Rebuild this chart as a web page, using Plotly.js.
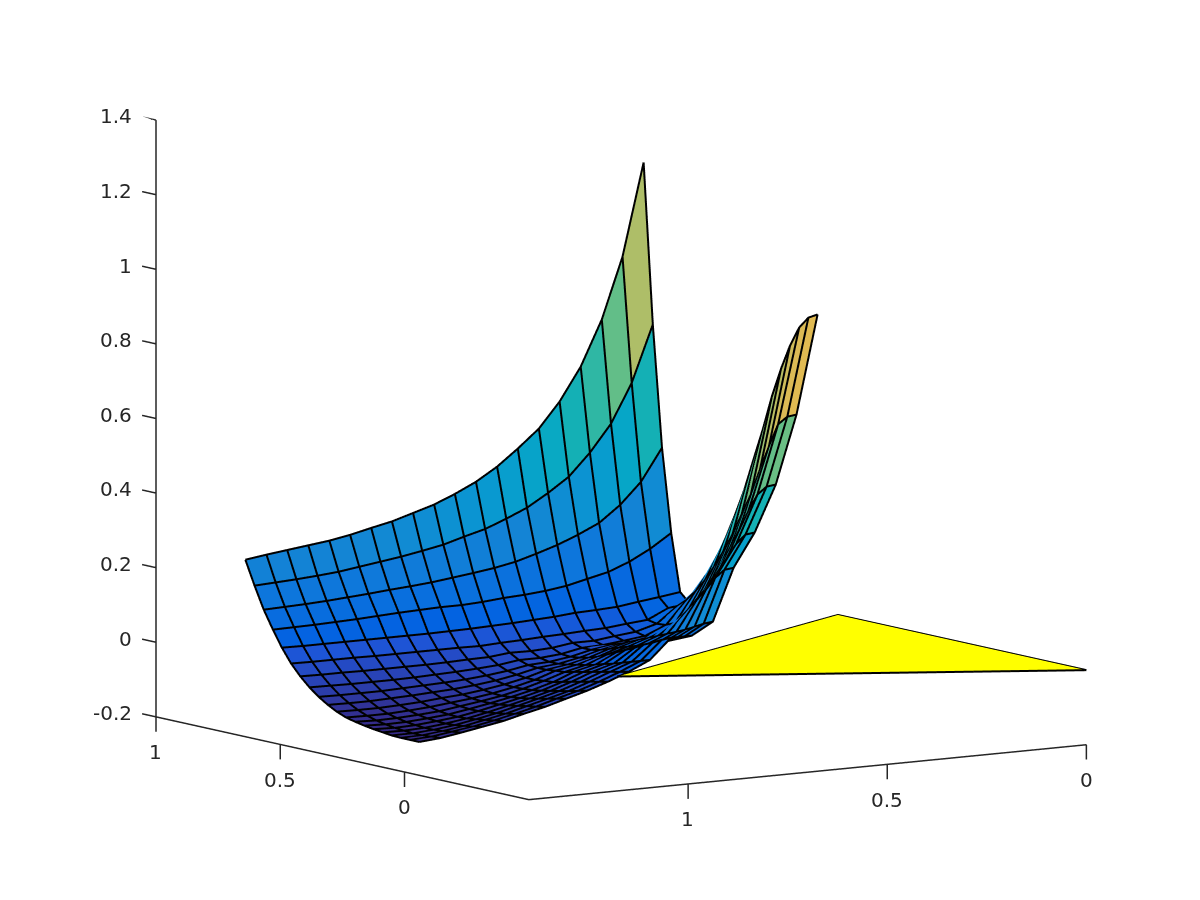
<!DOCTYPE html>
<html><head><meta charset="utf-8"><script src="https://cdn.plot.ly/plotly-3.0.1.min.js"></script>
<style>html,body{margin:0;background:#fff}#g{width:1200px;height:900px}</style></head>
<body><div id="g"></div><script>
const xVals=[1.300,1.247,1.195,1.142,1.089,1.037,.984,.932,.879,.826,.774,.721,.668,.616,.563,.511,.458,.405,.353,.300];
const yVals=[.800,.763,.726,.689,.653,.616,.579,.542,.505,.468,.432,.395,.358,.321,.284,.247,.211,.174,.137,.100];
const zRows=[
[.241,.177,.118,.070,.027,-.010,-.039,-.063,-.083,-.099,-.112,-.122,-.128,-.133,-.137,-.140,-.143,-.144,-.144,-.144],
[.249,.180,.120,.071,.026,-.011,-.040,-.064,-.084,-.100,-.113,-.123,-.130,-.135,-.139,-.141,-.143,-.143,-.141,-.139],
[.256,.183,.122,.072,.026,-.011,-.040,-.065,-.084,-.100,-.113,-.123,-.129,-.134,-.137,-.139,-.139,-.137,-.133,-.130],
[.263,.187,.125,.074,.026,-.011,-.041,-.065,-.084,-.098,-.111,-.120,-.126,-.130,-.132,-.133,-.132,-.129,-.125,-.120],
[.270,.192,.129,.076,.026,-.012,-.041,-.065,-.082,-.096,-.108,-.116,-.122,-.125,-.126,-.125,-.122,-.118,-.114,-.110],
[.280,.200,.133,.079,.026,-.012,-.041,-.064,-.080,-.093,-.103,-.110,-.114,-.116,-.116,-.114,-.111,-.107,-.102,-.096],
[.293,.208,.138,.082,.026,-.012,-.041,-.062,-.078,-.090,-.099,-.104,-.106,-.106,-.104,-.101,-.097,-.092,-.088,-.083],
[.305,.216,.142,.084,.026,-.012,-.040,-.060,-.075,-.085,-.092,-.096,-.097,-.095,-.092,-.088,-.083,-.078,-.072,-.067],
[.322,.226,.147,.086,.027,-.012,-.038,-.057,-.070,-.078,-.083,-.085,-.084,-.082,-.078,-.073,-.068,-.063,-.057,-.051],
[.339,.237,.154,.086,.028,-.013,-.037,-.053,-.063,-.068,-.071,-.071,-.068,-.066,-.060,-.054,-.049,-.043,-.038,-.032],
[.362,.253,.161,.089,.030,-.010,-.031,-.045,-.053,-.055,-.055,-.052,-.050,-.044,-.039,-.033,-.028,-.022,-.017,-.011],
[.389,.268,.169,.094,.032,-.008,-.032,-.045,-.050,-.050,-.047,-.042,-.037,-.031,-.023,-.017,-.009,-.001,.007,.015],
[.424,.290,.180,.097,.035,-.005,-.029,-.040,-.042,-.039,-.034,-.026,-.015,-.004,.009,.020,.034,.045,.058,.069],
[.467,.314,.196,.102,.038,-.003,-.021,-.029,-.029,-.024,-.016,-.007,.001,.009,.017,.025,.036,.047,.058,.069],
[.515,.348,.214,.110,.043,0,-.021,-.027,-.021,-.013,-.002,.009,.019,.030,.041,.052,.063,.076,.090,.101],
[.582,.386,.236,.123,.045,.002,-.014,-.021,-.019,-.011,.003,.019,.041,.068,.100,.132,.165,.202,.229,.240],
[.670,.445,.262,.136,.048,.008,-.008,-.014,-.011,.003,.024,.051,.083,.121,.162,.202,.245,.288,.318,.329],
[.791,.517,.305,.158,.056,.013,.008,.010,.021,.043,.075,.113,.158,.204,.255,.309,.363,.414,.441,.452],
[.954,.621,.361,.187,.063,.039,.050,.072,.101,.136,.177,.223,.274,.333,.392,.465,.532,.597,.623,.634],
[1.201,.772,.447,.224,.071,.047,.074,.125,.184,.244,.311,.383,.470,.555,.650,.730,.797,.851,.883,.897]];
const triX=[0,0,.866],triY=[-.5,.5,0],triZ=[0,0,0];
const xTicks=[0,.5,1],xTickText=['0','0.5','1'];
const yTicks=[0,.5,1],yTickText=['0','0.5','1'];
const zTicks=[-.2,0,.2,.4,.6,.8,1,1.2,1.4],zTickText=['-0.2','0','0.2','0.4','0.6','0.8','1','1.2','1.4'];
const xLim=[0,1.4],yLim=[-.5,1],zLim=[-.2,1.4];
const parula=[[0,'#352a87'],[.0952,'#2053d4'],[.127,'#0363e1'],[.1905,'#0d75dc'],[.254,'#1485d4'],[.3175,'#0998d1'],[.381,'#06a7c6'],[.4444,'#15b1b4'],[.5079,'#38b99e'],[.5714,'#65be86'],[.6349,'#92bf73'],[.6984,'#b7bd64'],[.7619,'#d9ba56'],[.8254,'#f8bb44'],[.8889,'#fcce2e'],[.9524,'#f5e41d'],[1,'#f9fb0e']];
const N=xVals.length,M=yVals.length;
const px=[],py=[],pz=[],fi=[],fj=[],fk=[],cellC=[];
for(let i=0;i<N;i++)for(let j=0;j<M;j++){px.push(xVals[i]);py.push(yVals[j]);pz.push(zRows[i][j]);}
const id=(i,j)=>i*M+j;
for(let i=0;i<N-1;i++)for(let j=0;j<M-1;j++){
 const c=zRows[i+1][j+1];
 fi.push(id(i,j),id(i,j));fj.push(id(i+1,j),id(i+1,j+1));fk.push(id(i+1,j+1),id(i,j+1));cellC.push(c,c);
}
// mesh lines, lifted a hair toward the camera so they are not lost in the faces
const lift=[.008,-.012,.002];
const lx=[],ly=[],lz=[];
function add(a,b,c){lx.push(a===null?null:a+lift[0]);ly.push(b===null?null:b+lift[1]);lz.push(c===null?null:c+lift[2]);}
for(let i=0;i<N;i++){for(let j=0;j<M;j++)add(xVals[i],yVals[j],zRows[i][j]);add(null,null,null);}
for(let j=0;j<M;j++){for(let i=0;i<N;i++)add(xVals[i],yVals[j],zRows[i][j]);add(null,null,null);}
// axes in data space: MATLAB's ticks point along z for x/y
const tickDrop=.04,tickOut=.056;
const ax=[],ay=[],az=[];
function seg(p,q){ax.push(p[0],q[0],null);ay.push(p[1],q[1],null);az.push(p[2],q[2],null);}
seg([xLim[1],yLim[1],zLim[0]],[xLim[1],yLim[1],zLim[1]]);
seg([xLim[0],yLim[0],zLim[0]],[xLim[1],yLim[0],zLim[0]]);
seg([xLim[1],yLim[0],zLim[0]],[xLim[1],yLim[1],zLim[0]]);
xTicks.forEach(v=>seg([v,yLim[0],zLim[0]],[v,yLim[0],zLim[0]-tickDrop]));
yTicks.forEach(v=>seg([xLim[1],v,zLim[0]],[xLim[1],v,zLim[0]-tickDrop]));
zTicks.forEach(v=>seg([xLim[1],yLim[1],v],[xLim[1],yLim[1]+tickOut,v]));
const flat={ambient:1,diffuse:0,specular:0,roughness:1,fresnel:0};
const data=[
{type:'mesh3d',x:px,y:py,z:pz,i:fi,j:fj,k:fk,intensity:cellC,intensitymode:'cell',colorscale:parula,cmin:-.144,cmax:1.201,showscale:false,flatshading:true,lighting:flat,hoverinfo:'skip'},
{type:'scatter3d',mode:'lines',x:lx,y:ly,z:lz,line:{color:'#000',width:4},hoverinfo:'skip',connectgaps:false},
{type:'mesh3d',x:triX,y:triY,z:triZ,i:[0],j:[1],k:[2],color:'#ffff00',opacity:1,flatshading:true,lighting:flat,hoverinfo:'skip'},
{type:'scatter3d',mode:'lines',x:[...triX,triX[0]],y:[...triY,triY[0]],z:[...triZ,triZ[0]],line:{color:'#000',width:4},hoverinfo:'skip'},
{type:'scatter3d',mode:'lines',x:ax,y:ay,z:az,line:{color:'#262626',width:3},hoverinfo:'skip',connectgaps:false}
];
const hidden=(range)=>({range,showgrid:false,zeroline:false,showbackground:false,showspikes:false,showline:false,ticks:'',showticklabels:false,title:{text:''}});
const tf={family:'DejaVu Sans',size:20,color:'#262626'};
const ann=[];
xTicks.forEach((v,n)=>ann.push({x:v,y:yLim[0],z:zLim[0],text:xTickText[n],showarrow:false,xanchor:'center',yanchor:'middle',yshift:-35,font:tf}));
yTicks.forEach((v,n)=>ann.push({x:xLim[1],y:v,z:zLim[0],text:yTickText[n],showarrow:false,xanchor:'center',yanchor:'middle',yshift:-35,font:tf}));
zTicks.forEach((v,n)=>ann.push({x:xLim[1],y:yLim[1],z:v,text:zTickText[n],showarrow:false,xanchor:'right',yanchor:'middle',xshift:-22,yshift:4,font:tf}));
const d=1.033;
const layout={width:1200,height:900,margin:{l:0,r:0,t:0,b:0},paper_bgcolor:'#fff',showlegend:false,
scene:{domain:{x:[.0289,.9956],y:[.0319,.993]},aspectmode:'manual',aspectratio:{x:1.571,y:1.6276,z:1.430},
 camera:{projection:{type:'orthographic'},up:{x:0,y:0,z:1},center:{x:0,y:0,z:0},eye:{x:-.5482*d,y:-.8232*d,z:.1479*d}},
 xaxis:hidden([1.41,-.01]),yaxis:hidden([-.51,1.06]),zaxis:hidden([-.24,1.4]),annotations:ann}};
Plotly.newPlot('g',data,layout,{displayModeBar:false});
</script></body></html>
